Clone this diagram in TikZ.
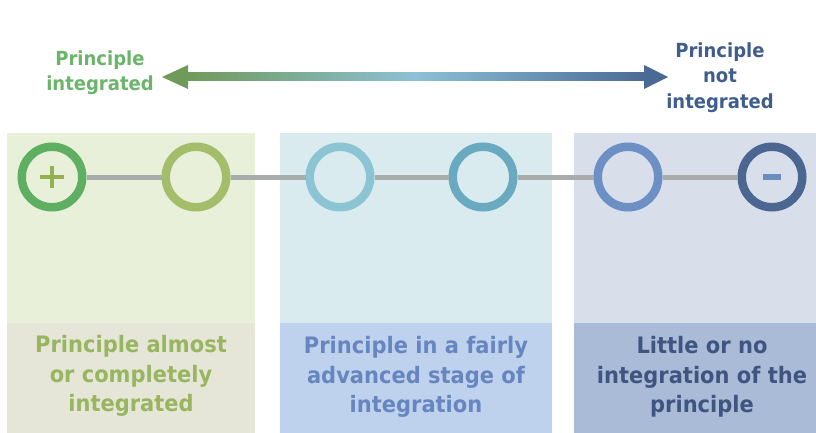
\documentclass[tikz,border=0pt]{standalone}
\usepackage{fontspec}
\setmainfont{DejaVu Sans}
\usetikzlibrary{calc}
\definecolor{pAup}{HTML}{E8F0DA}
\definecolor{pAlo}{HTML}{E6E6D8}
\definecolor{pBup}{HTML}{DAEBEF}
\definecolor{pBlo}{HTML}{BED2EE}
\definecolor{pCup}{HTML}{D9DFEA}
\definecolor{pClo}{HTML}{AABBD8}
\definecolor{arrL}{HTML}{6F9A5A}
\definecolor{arrM}{HTML}{8CC0D6}
\definecolor{arrR}{HTML}{4A6A95}
\definecolor{txtL}{HTML}{6BB56A}
\definecolor{txtR}{HTML}{3F5E8C}
\definecolor{tA}{HTML}{98B560}
\definecolor{tB}{HTML}{6786BF}
\definecolor{tC}{HTML}{3F5580}
\definecolor{cA}{HTML}{5FAF63}
\definecolor{cB}{HTML}{A3BD6A}
\definecolor{cC}{HTML}{8CC4D3}
\definecolor{cD}{HTML}{6AAAC0}
\definecolor{cE}{HTML}{6C8FC4}
\definecolor{cF}{HTML}{4B6691}
\definecolor{plusc}{HTML}{95B050}
\definecolor{minusc}{HTML}{6C8DC0}
\definecolor{linec}{HTML}{A8ACAA}
\tikzset{
  ring/.style={circle, draw=#1, line width=8.5pt, minimum size=60.5pt, inner sep=0pt},
  toplabel/.style={align=center, yscale=1.08, transform shape, font=\bfseries\fontsize{18}{23.6}\selectfont},
  bottomlabel/.style={align=center, yscale=1.08, transform shape, font=\bfseries\fontsize{21}{27.4}\selectfont},
  link/.style={draw=linec, line width=5pt}
}
\begin{document}
\begin{tikzpicture}[x=1pt,y=-1pt]
\useasboundingbox (0,0) rectangle (816,433);
% panels
\fill[pAup] (7,133) rectangle (255,323);
\fill[pAlo] (7,323) rectangle (255,433);
\fill[pBup] (280,133) rectangle (552,323);
\fill[pBlo] (280,323) rectangle (552,433);
\fill[pCup] (574,133) rectangle (816,323);
\fill[pClo] (574,323) rectangle (816,433);
% top arrow
\coordinate (aL) at (162,77);
\coordinate (aR) at (668,77);
\shade[left color=arrL, right color=arrR, middle color=arrM] ($(aL)+(24,-4)$) rectangle ($(aR)+(-22,4)$);
\fill[arrL] (aL) -- ++(26,-12) -- ++(0,24) -- cycle;
\fill[arrR] (aR) -- ++(-24,-12) -- ++(0,24) -- cycle;
\node[toplabel, text=txtL] (lt) at (100,72.5) {Principle\\integrated};
\node[toplabel, text=txtR] (rt) at (720,77.5) {Principle\\not\\integrated};
% circles
\node[ring=cA] (c1) at (52,177) {};
\node[ring=cB] (c2) at (196,177) {};
\node[ring=cC] (c3) at (340,177) {};
\node[ring=cD] (c4) at (483,177) {};
\node[ring=cE] (c5) at (628,177) {};
\node[ring=cF] (c6) at (772,177) {};
\draw[link] (c1) -- (c2);
\draw[link] (c2) -- (c3);
\draw[link] (c3) -- (c4);
\draw[link] (c4) -- (c5);
\draw[link] (c5) -- (c6);
% plus and minus
\draw[plusc, line width=4pt] ($(c1)+(-12,0)$) -- ($(c1)+(12,0)$);
\draw[plusc, line width=4pt] ($(c1)+(0,-11)$) -- ($(c1)+(0,11)$);
\fill[minusc] ($(c6)+(-9,-3)$) rectangle ($(c6)+(9,3)$);
% bottom labels
\node[bottomlabel, text=tA] (bA) at (131,376) {Principle almost\\or completely\\integrated};
\node[bottomlabel, text=tB] (bB) at (416,377) {Principle in a fairly\\advanced stage of\\integration};
\node[bottomlabel, text=tC] (bC) at (702,377) {Little or no\\integration of the\\principle};
\end{tikzpicture}
\end{document}
